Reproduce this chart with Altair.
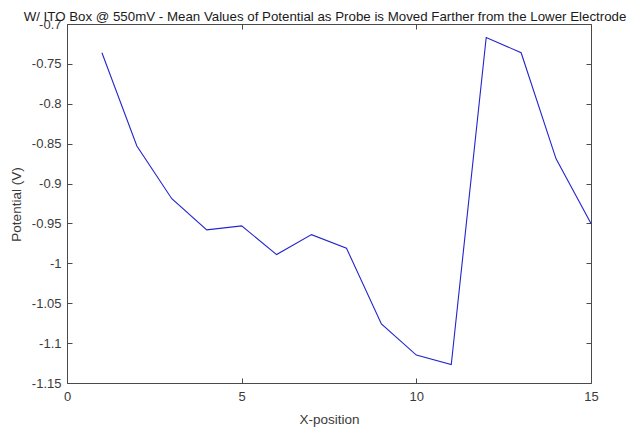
import altair as alt
import pandas as pd

x_pos = [1, 2, 3, 4, 5, 6, 7, 8, 9, 10, 11, 12, 13, 14, 15]
potential = [-0.736, -0.853, -0.919, -0.958, -0.953, -0.989, -0.964, -0.981,
             -1.076, -1.115, -1.127, -0.717, -0.736, -0.869, -0.950]
x_ticks = [0, 5, 10, 15]
y_ticks = [-1.15, -1.1, -1.05, -1.0, -0.95, -0.9, -0.85, -0.8, -0.75, -0.7]

df = pd.DataFrame({"x": x_pos, "v": potential})

FONT = "Liberation Sans"
AX = "#4a4a4a"
LAB = "#3a3a3a"

x_scale = alt.Scale(domain=[0, 15], nice=False, zero=False)
y_scale = alt.Scale(domain=[-1.15, -0.7], nice=False, zero=False)

base = alt.Chart(df)

main = base.mark_line(color="#2424cc", strokeWidth=1.1).encode(
    x=alt.X("x:Q", scale=x_scale,
            axis=alt.Axis(orient="bottom", title="X-position", values=x_ticks,
                          offset=-5, tickSize=5, domain=False, grid=False,
                          labelPadding=7, labelFlush=False,
                          titleBaseline="alphabetic", titleY=45)),
    y=alt.Y("v:Q", scale=y_scale,
            axis=alt.Axis(orient="left", title="Potential (V)", values=y_ticks,
                          offset=-5, tickSize=5, domain=False, grid=False,
                          labelPadding=6, labelFlush=False,
                          labelExpr="toString(datum.value)",
                          titleBaseline="middle", titleX=-56, titleY=180)),
)

mirror = base.mark_line(strokeOpacity=0).encode(
    x=alt.X("x:Q", scale=x_scale,
            axis=alt.Axis(orient="top", title=None, values=x_ticks, labels=False,
                          offset=-5, tickSize=5, domain=False, grid=False)),
    y=alt.Y("v:Q", scale=y_scale,
            axis=alt.Axis(orient="right", title=None, values=y_ticks, labels=False,
                          offset=-5, tickSize=5, domain=False, grid=False)),
)

chart = alt.layer(main, mirror).resolve_axis(x="independent", y="independent").properties(
    width=524,
    height=359,
    autosize=alt.AutoSizeParams(type="none"),
    padding={"left": 59, "top": 16, "right": 37, "bottom": 50},
    title=alt.Title(
        "W/ ITO Box @ 550mV - Mean Values of Potential as Probe is Moved Farther from the Lower Electrode",
        anchor="middle", fontSize=13.3, font=FONT, fontWeight="normal", color="#1a1a1a",
        baseline="alphabetic", offset=-16, dx=-4,
    ),
).configure_view(
    stroke=AX, strokeWidth=1
).configure_axis(
    labelFont=FONT, titleFont=FONT, labelFontSize=13, titleFontSize=13.5,
    labelColor=LAB, titleColor=LAB, tickColor=AX, titleFontWeight="normal",
)

chart.save("out.html", embed_options={"renderer": "svg", "actions": False})
